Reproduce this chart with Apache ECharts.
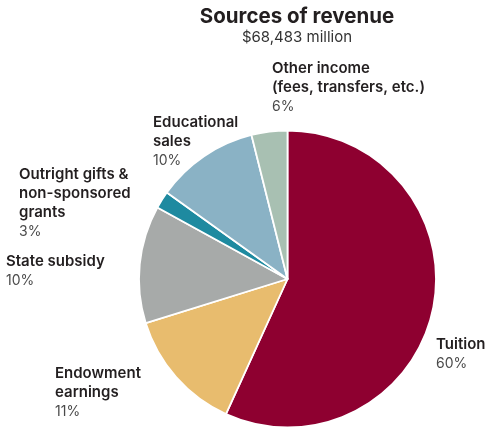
<!DOCTYPE html>
<html><head><meta charset="utf-8">
<script src="https://cdn.jsdelivr.net/npm/echarts@6/dist/echarts.min.js"></script>
<style>html,body{margin:0;padding:0;background:#fff}#c{width:492px;height:429px}</style>
</head><body><div id="c"></div>
<script>
const categories = ['Tuition', 'Endowment\nearnings', 'State subsidy', 'Outright gifts &\nnon-sponsored\ngrants', 'Educational\nsales', 'Other income\n(fees, transfers, etc.)'];
const values = [56.8, 13.4, 12.8, 1.9, 11.2, 3.9];
const percentLabels = ['60%', '11%', '10%', '3%', '10%', '6%'];
const colors = ['#8E0030', '#E8BC6E', '#A7AAA9', '#1E8AA0', '#8AB2C5', '#A8C0B2'];
const titleText = 'Sources of revenue';
const subtitleText = '$68,483 million';
const labelPos = [[436, 335], [55, 364], [6, 252], [19, 165], [153, 113], [272, 59]];

const FONT = 'Inter';
const chart = echarts.init(document.getElementById('c'), null, {renderer: 'canvas'});
chart.setOption({
  animation: false,
  graphic: [
    {type: 'text', x: 297, y: 6, style: {text: titleText, fill: '#231F20', font: 'bold 20.5px ' + FONT, textAlign: 'center'}},
    {type: 'text', x: 297, y: 30, style: {text: subtitleText, fill: '#333', font: '15px ' + FONT, textAlign: 'center'}}
  ],
  series: [{
    type: 'pie',
    center: [287.5, 279],
    radius: [0, 148.5],
    startAngle: 90,
    clockwise: true,
    silent: true,
    itemStyle: {borderColor: '#fff', borderWidth: 1.8},
    data: categories.map((c, i) => ({name: c, value: values[i], itemStyle: {color: colors[i]}})),
    label: {
      show: true,
      position: 'outside',
      overflow: 'none',
      formatter: p => '{n|' + categories[p.dataIndex] + '}\n{p|' + percentLabels[p.dataIndex] + '}',
      rich: {
        n: {fontFamily: FONT, fontWeight: 600, fontSize: 15, color: '#231F20', lineHeight: 19},
        p: {fontFamily: FONT, fontWeight: 400, fontSize: 14, color: '#4a4a4a', lineHeight: 20}
      }
    },
    labelLine: {show: false},
    labelLayout: p => ({x: labelPos[p.dataIndex][0], y: labelPos[p.dataIndex][1], align: 'left', verticalAlign: 'top'})
  }]
});
</script></body></html>
